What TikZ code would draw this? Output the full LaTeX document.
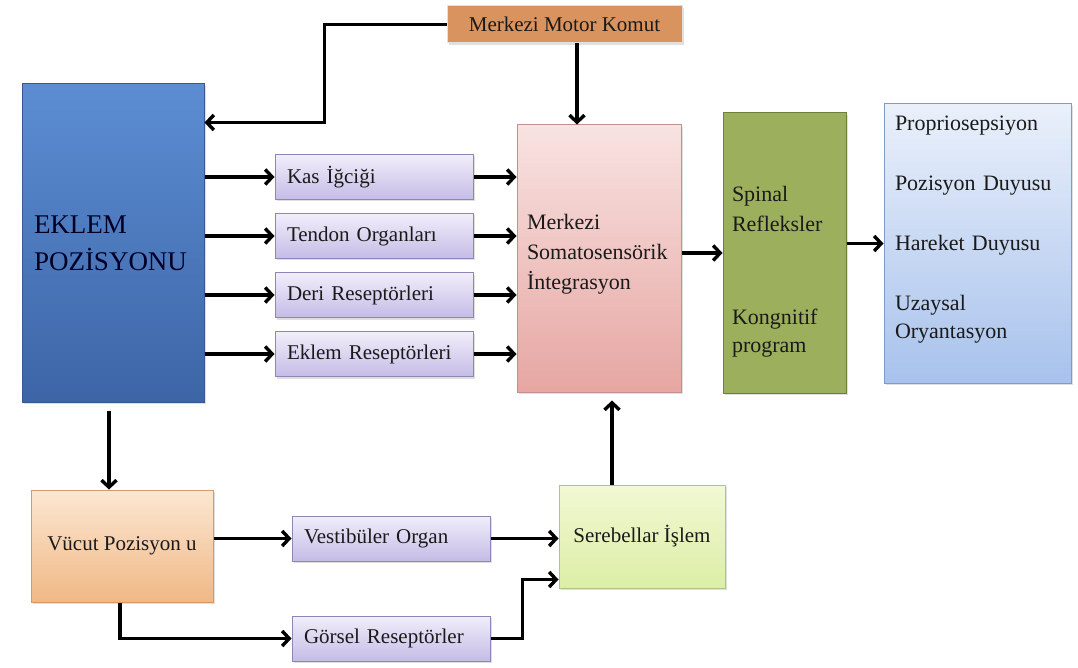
\documentclass[tikz,border=0pt]{standalone}
\usepackage{fontspec}
\setmainfont{Liberation Serif}
\usetikzlibrary{arrows, arrows.meta, positioning, shadows}

\definecolor{textgray}{HTML}{1A1A1A}
\definecolor{motorfill}{HTML}{D8935E}
\definecolor{eklemtop}{HTML}{5C8DD3}
\definecolor{eklembot}{HTML}{3D65A6}
\definecolor{eklemline}{HTML}{37598F}
\definecolor{sensortop}{HTML}{F1EEFA}
\definecolor{sensorbot}{HTML}{C5BCE6}
\definecolor{sensorline}{HTML}{8E86B4}
\definecolor{somatop}{HTML}{F8E3E2}
\definecolor{somabot}{HTML}{E6A6A2}
\definecolor{somaline}{HTML}{C4908D}
\definecolor{spinalfill}{HTML}{9CAF5C}
\definecolor{spinalline}{HTML}{6E7F3A}
\definecolor{outtop}{HTML}{EAF0FB}
\definecolor{outbot}{HTML}{A8C2EC}
\definecolor{outline}{HTML}{7E9BC9}
\definecolor{vucuttop}{HTML}{FCE7D2}
\definecolor{vucutbot}{HTML}{F0B886}
\definecolor{vucutline}{HTML}{D49A68}
\definecolor{serebtop}{HTML}{F2F8D4}
\definecolor{serebbot}{HTML}{DCEEA6}
\definecolor{serebline}{HTML}{AFC487}

\begin{document}
\begin{tikzpicture}[
    x=1pt, y=-1pt,
    node distance=13pt and 70pt,
    >={Straight Barb[length=7pt,width=15pt]},
    every node/.style={
        draw,
        line width=1pt,
        align=left,
        text=textgray,
        font=\fontsize{21}{28}\selectfont,
        drop shadow={opacity=0.25, shadow xshift=1.5pt, shadow yshift=-2pt}
    },
    motorbox/.style={fill=motorfill, draw=white!88!black, align=center,
        minimum width=235pt, minimum height=37pt, font=\fontsize{21}{26}\selectfont},
    eklembox/.style={top color=eklemtop, bottom color=eklembot, draw=eklemline,
        minimum width=182pt, minimum height=318pt, text width=158pt, inner xsep=12pt,
        text=black!75!blue!60!black, font=\fontsize{27}{37}\selectfont},
    sensor/.style={top color=sensortop, bottom color=sensorbot, draw=sensorline,
        minimum width=198pt, minimum height=45pt, text width=174pt, inner xsep=12pt},
    somabox/.style={top color=somatop, bottom color=somabot, draw=somaline,
        minimum width=164pt, minimum height=267pt, text width=144pt, inner xsep=10pt,
        font=\fontsize{22}{30}\selectfont},
    spinalbox/.style={fill=spinalfill, draw=spinalline,
        minimum width=123pt, minimum height=280pt, text width=105pt, inner xsep=9pt,
        font=\fontsize{22}{28}\selectfont},
    outbox/.style={top color=outtop, bottom color=outbot, draw=outline,
        minimum width=187pt, minimum height=279pt, text width=165pt, inner xsep=11pt,
        font=\fontsize{22}{28}\selectfont},
    vucutbox/.style={top color=vucuttop, bottom color=vucutbot, draw=vucutline,
        align=center, minimum width=182pt, minimum height=112pt},
    serebbox/.style={top color=serebtop, bottom color=serebbot, draw=serebline,
        align=center, minimum width=166pt, minimum height=103pt},
    arrow/.style={->, line width=3.4pt, black}
]
\useasboundingbox (0,0) rectangle (1078,668);

% --- Top and left ---
\node[motorbox] (motor) at (564.5,24.5) {Merkezi Motor Komut};
\node[eklembox] (eklem) at (113,243) {EKLEM\\POZİSYONU};

% --- Receptors (stacked) ---
\node[sensor] (kas) at (374,177) {Kas İğciği};
\node[sensor, below=of kas] (tendon) {Tendon Organları};
\node[sensor, below=of tendon] (deri) {Deri Reseptörleri};
\node[sensor, below=of deri] (eklemres) {Eklem Reseptörleri};

% --- Middle and right ---
\node[somabox] (soma) at (599,258.5) {Merkezi\\Somatosensörik\\İntegrasyon\\[-16pt]~};
\node[spinalbox] (spinal) at (784.5,253) {~\\[24pt]Spinal\\[2pt]Refleksler\\[65pt]Kongnitif\\program};
\node[outbox] (output) at (977.5,243.5) {Propriosepsiyon\\[32pt]Pozisyon Duyusu\\[32pt]Hareket Duyusu\\[32pt]Uzaysal\\Oryantasyon\\[4pt]~};

% --- Bottom row ---
\node[vucutbox] (vucut) at (122,546) {Vücut Pozisyon u};
\node[sensor] (vestib) at (391,538.5) {Vestibüler Organ};
\node[sensor, below=54pt of vestib] (gorsel) {Görsel Reseptörler};
\node[serebbox] (sereb) at (642,536.5) {Serebellar İşlem};

% --- Arrows ---
\draw[arrow] (motor.west) -- ++(-122,0) |- ([yshift=-39pt]eklem.north east);
\draw[arrow] ([xshift=12.5pt]motor.south) -- ([xshift=12.5pt]motor.south |- soma.north);
\foreach \s in {kas,tendon,deri,eklemres} {
    \draw[arrow] (eklem.east |- \s) -- (\s);
    \draw[arrow] (\s) -- (\s -| soma.west);
}
\draw[arrow] (soma.east |- spinal) -- (spinal);
\draw[arrow] (spinal.east |- output) -- (output);
\draw[arrow, shorten <=8pt] ([xshift=-4pt]eklem.south) -- ([xshift=-4pt]eklem.south |- vucut.north);
\draw[arrow] (vucut.east |- vestib) -- (vestib);
\draw[arrow] ([xshift=-2pt]vucut.south) |- (gorsel.west);
\draw[arrow] (vestib) -- (vestib -| sereb.west);
\draw[arrow] (gorsel.east) -- ++(32,0) |- ([yshift=9pt]sereb.south west);
\draw[arrow, shorten >=8pt] ([xshift=-30pt]sereb.north) -- ([xshift=-30pt]sereb.north |- soma.south);

\end{tikzpicture}
\end{document}
